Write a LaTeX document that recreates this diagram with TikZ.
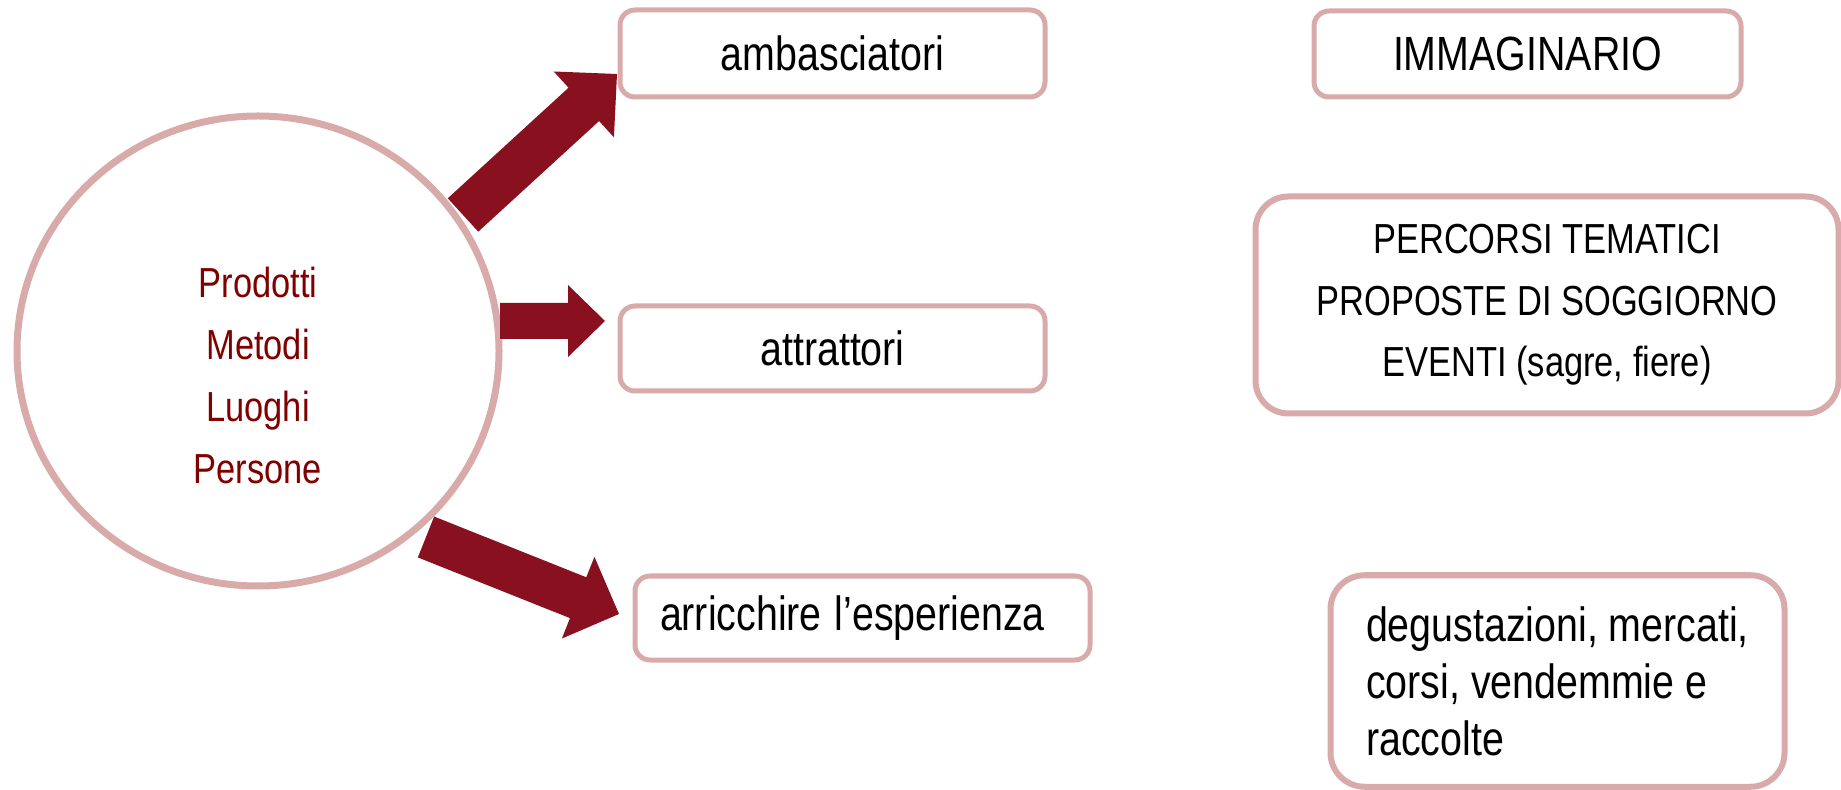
\documentclass[tikz,border=0pt]{standalone}
\usepackage{fontspec}
\setmainfont{Liberation Sans}[FakeStretch=0.82]
\usetikzlibrary{calc,shapes.geometric}
\definecolor{boxpink}{HTML}{D8AAAA}
\definecolor{arrowred}{HTML}{89101E}
\definecolor{circtextred}{HTML}{800000}
% #1 tail, #2 tip, #3 shaft half width, #4 head half width, #5 head length
\newcommand\blockarrow[5]{%
  \coordinate (bah) at ($(#2)!#5!(#1)$);
  \fill[arrowred] ($(#1)!#3!90:(#2)$) -- ($(bah)!#3!90:(#2)$) -- ($(bah)!#4!90:(#2)$)
    -- (#2) -- ($(bah)!#4!-90:(#2)$) -- ($(bah)!#3!-90:(#2)$) -- ($(#1)!#3!-90:(#2)$) -- cycle;
}
\tikzset{
  smallbox/.style={draw=boxpink, line width=2.5pt, rounded corners=7.5pt, fill=white,
    inner sep=0pt, font=\fontsize{24}{28}\selectfont, text=black},
  bigbox/.style={draw=boxpink, line width=3pt, rounded corners=16.5pt, fill=white,
    inner sep=0pt, text=black, align=center},
  bigcircle/.style={ellipse, draw=boxpink, line width=3.5pt, inner sep=0pt},
  circtext/.style={text=circtextred, align=center, font=\fontsize{21}{31}\selectfont},
}
\begin{document}
\begin{tikzpicture}[x=0.5pt, y=-0.5pt]
  \useasboundingbox (0,0) rectangle (1841,790);
  \node[bigcircle, minimum width=241pt, minimum height=235pt] (circ) at (258,351) {};
  \node[circtext] (circtxt) at (258,375) {Prodotti\\Metodi\\Luoghi\\Persone};

  \node[smallbox, minimum width=212.5pt, minimum height=43.5pt] (amb) at (832.5,53.5) {ambasciatori};
  \node[smallbox, minimum width=212.5pt, minimum height=42.5pt] (attr) at (832.5,348.5) {attrattori};
  \node[smallbox, text width=202.5pt, inner xsep=12.5pt, minimum height=42pt, align=left] (arr) at (862.5,618) {arricchire\hspace{-1.5pt} l’esperienza};
  \node[smallbox, minimum width=213.5pt, minimum height=43pt] (imm) at (1527.5,54) {IMMAGINARIO};
  \node[bigbox, minimum width=291.5pt, minimum height=108.5pt, font=\fontsize{21}{30.75}\selectfont] (perc) at (1547,305)
    {PERCORSI TEMATICI\\PROPOSTE DI SOGGIORNO\\EVENTI (sagre, fiere)};
  \node[bigbox, align=left, minimum width=227pt, minimum height=105.75pt, rounded corners=17pt, font=\fontsize{24}{28.5}\selectfont] (deg) at (1557.5,681)
    {degustazioni, mercati,\\corsi, vendemmie e\\raccolte};

  \coordinate (t1) at (463,215);
  \coordinate (h1) at (617,74);
  \coordinate (t2) at (500,321);
  \coordinate (h2) at (605,321);
  \coordinate (t3) at (426,537);
  \coordinate (h3) at (619,614);
  \blockarrow{t1}{h1}{11.3pt}{22.3pt}{22.5pt}
  \blockarrow{t2}{h2}{9pt}{18pt}{18.5pt}
  \blockarrow{t3}{h3}{11pt}{22pt}{22pt}
\end{tikzpicture}
\end{document}
